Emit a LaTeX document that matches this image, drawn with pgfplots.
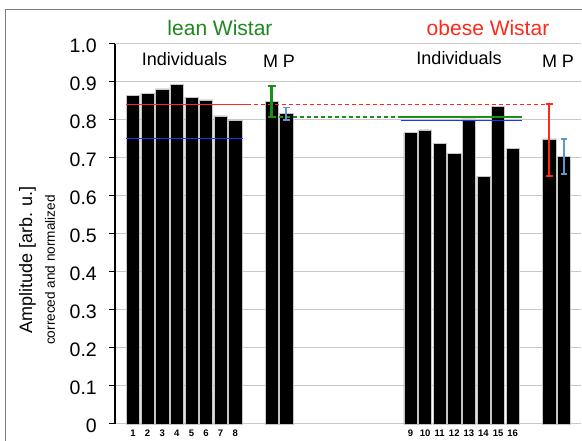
\documentclass[border=0pt]{standalone}
\usepackage{fontspec}
\setmainfont{Liberation Sans}
\usepackage{pgfplots}
\pgfplotsset{compat=1.18}

\definecolor{leangreen}{RGB}{30,135,30}
\definecolor{errgreen}{RGB}{25,145,25}
\definecolor{obred}{RGB}{255,40,25}
\definecolor{lineblue}{RGB}{30,50,255}
\definecolor{lightblue}{RGB}{95,150,210}
\definecolor{gridgray}{RGB}{200,200,200}
\definecolor{framegray}{RGB}{125,125,125}

\newcommand{\fs}[1]{\fontsize{#1}{#1}\selectfont}

\begin{document}
\begin{tikzpicture}[x=1bp,y=1bp]
\useasboundingbox (0,0) rectangle (582,441);
\draw[framegray, line width=1.4bp] (5.5,0) -- (5.5,431.5) -- (582,431.5);
\begin{axis}[
  at={(115bp,17bp)}, anchor=south west,
  width=466bp, height=380bp, scale only axis,
  xmin=-1.233, xmax=30.68, ymin=0, ymax=1,
  axis y line*=left, axis x line*=bottom,
  x axis line style={draw=gridgray, line width=1bp, -},
  y axis line style={draw=black, line width=1.2bp, -},
  ytick={0,0.1,0.2,0.3,0.4,0.5,0.6,0.7,0.8,0.9,1.0},
  yticklabels={0,0.1,0.2,0.3,0.4,0.5,0.6,0.7,0.8,0.9,1.0},
  ytick align=outside, major tick length=6bp,
  y tick style={draw=black, line width=1bp},
  yticklabel style={font=\fs{19.5bp}, inner sep=0pt, xshift=-12bp, yshift=-2bp},
  ymajorgrids, grid style={draw=gridgray, line width=1bp},
  xtick={0,1,2,3,4,5,6,7,19,20,21,22,23,24,25,26},
  xticklabels={1,2,3,4,5,6,7,8,9,10,11,12,13,14,15,16},
  x tick style={draw=none},
  xticklabel style={font=\fs{9.5bp}\bfseries, inner sep=0pt, anchor=base, yshift=-13bp},
  /pgf/number format/assume math mode=true,
  clip=false,
]
% individual animals and group mean / pooled values
\addplot[ybar, bar width=13.3bp, fill=black, draw=gray!45, line width=0.5bp]
  coordinates {(0,0.864) (1,0.870) (2,0.882) (3,0.894) (4,0.860) (5,0.853) (6,0.811) (7,0.799)
               (9.5,0.848) (10.5,0.818)
               (19,0.767) (20,0.774) (21,0.739) (22,0.712) (23,0.803) (24,0.652) (25,0.835) (26,0.725)
               (28.5,0.750) (29.5,0.704)};

% reference levels
\addplot[obred, line width=1.5bp] coordinates {(-0.45,0.841) (7.8,0.841)};
\addplot[obred, line width=1.3bp, dash pattern=on 4bp off 3bp] coordinates {(7.8,0.841) (28.5,0.841)};
\addplot[lineblue, line width=1.5bp] coordinates {(-0.45,0.751) (7.55,0.751)};
\addplot[errgreen, line width=1.3bp, dash pattern=on 4bp off 3bp] coordinates {(9.5,0.808) (18.33,0.808)};
\addplot[errgreen, line width=1.5bp] coordinates {(18.33,0.808) (26.62,0.808)};
\addplot[lineblue, line width=1.5bp] coordinates {(18.33,0.799) (26.62,0.799)};

% error bars
\addplot[draw=none, mark=none, error bars/.cd, y dir=both, y explicit,
  error bar style={draw=errgreen, line width=2.6bp},
  error mark options={rotate=90, draw=errgreen, mark size=4bp, line width=2bp}]
  coordinates {(9.5,0.849) +- (0,0.041)};
\addplot[draw=none, mark=none, error bars/.cd, y dir=both, y explicit,
  error bar style={draw=lightblue, line width=2bp},
  error mark options={rotate=90, draw=lightblue, mark size=3.2bp, line width=1.8bp}]
  coordinates {(10.5,0.817) +- (0,0.016)};
\addplot[draw=none, mark=none, error bars/.cd, y dir=both, y explicit,
  error bar style={draw=obred, line width=2.6bp},
  error mark options={rotate=90, draw=obred, mark size=3.6bp, line width=2bp}]
  coordinates {(28.5,0.748) +- (0,0.095)};
\addplot[draw=none, mark=none, error bars/.cd, y dir=both, y explicit,
  error bar style={draw=lightblue, line width=2bp},
  error mark options={rotate=90, draw=lightblue, mark size=3.2bp, line width=1.8bp}]
  coordinates {(29.5,0.704) +- (0,0.046)};
\end{axis}

\node[leangreen, font=\fs{21bp}, inner sep=0pt] at (220,413.3) {lean Wistar};
\node[obred, font=\fs{21bp}, inner sep=0pt] at (488,412.5) {obese Wistar};
\node[font=\fs{18bp}, inner sep=0pt] at (184.5,381.7) {Individuals};
\node[font=\fs{18bp}, inner sep=0pt] at (459,383) {Individuals};
\node[font=\fs{18bp}, inner sep=0pt] at (279,379.7) {M P};
\node[font=\fs{18bp}, inner sep=0pt] at (558,379.7) {M P};
\node[rotate=90, font=\fs{18bp}, inner sep=0pt] at (27.5,181) {Amplitude [arb. u.]};
\node[rotate=90, font=\fs{13.6bp}, inner sep=0pt] at (50,171) {correced and normalized};
\end{tikzpicture}
\end{document}
